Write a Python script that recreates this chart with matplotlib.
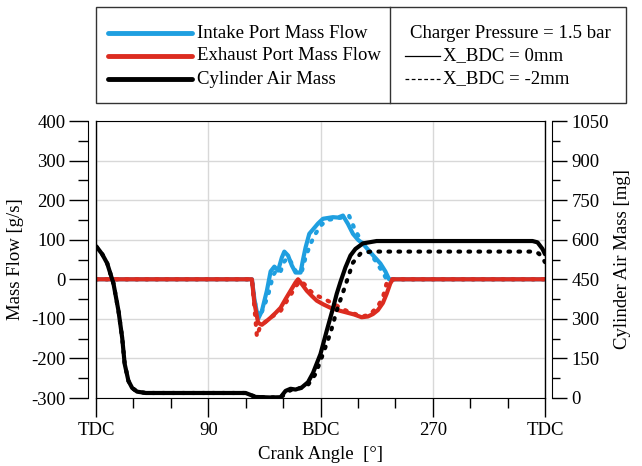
"""
Intake / exhaust port mass flow and cylinder air mass over crank angle.
"""

import matplotlib
matplotlib.use("Agg")
import matplotlib.pyplot as plt
from matplotlib.ticker import MultipleLocator

plt.rcParams["font.family"] = ["Liberation Serif", "DejaVu Serif"]
plt.rcParams["axes.unicode_minus"] = False

# ---- data ----
# cylinder air mass [mg], X_BDC = 0mm
air0_deg = [0, 1, 5, 9, 14, 18, 21, 23, 26, 29, 33, 40, 120, 128, 140, 148, 152, 156, 160,
            165, 170, 174, 180, 185, 190, 193, 196, 200, 204, 208, 214, 225, 350,
            354, 358, 360]
air0_mg = [575, 570, 545, 510, 434, 331, 228, 129, 65, 38, 24, 19, 19, 4, 2, 3, 27, 35, 32,
           40, 60, 95, 167, 255, 340, 395, 440, 495, 540, 565, 586, 595, 595,
           590, 565, 545]
# cylinder air mass [mg], X_BDC = -2mm
air2_deg = [0, 1, 5, 9, 14, 18, 21, 23, 26, 29, 33, 40, 120, 128, 140, 148, 152, 156, 160,
            165, 170, 176, 182, 188, 193, 198, 202, 206, 212, 220, 350, 355, 358, 360]
air2_mg = [575, 570, 545, 510, 434, 331, 228, 129, 65, 38, 24, 19, 19, 4, 2, 3, 15, 30, 35,
           38, 50, 91, 167, 247, 331, 400, 456, 513, 547, 555, 555, 548, 530, 515]

# exhaust port mass flow [g/s]
exh0_deg = [0, 125, 127, 130, 133, 137, 140, 144, 148, 152, 156, 160, 162, 165, 169,
            173, 177, 182, 188, 195, 201, 207, 213, 218, 222, 226, 230, 233, 236, 238, 360]
exh0_gs = [0, 0, -60, -110, -115, -105, -97, -85, -72, -50, -29, -8, 0, -12, -29,
           -42, -54, -63, -72, -79, -84, -89, -96, -94, -88, -78, -60, -37, -10, 0, 0]
exh2_deg = [0, 125, 127, 129, 131, 134, 138, 144, 148, 152, 156, 160, 164, 168, 172,
            176, 182, 188, 195, 201, 207, 214, 220, 226, 230, 233, 235, 360]
exh2_gs = [0, 0, -70, -145, -125, -112, -102, -88, -80, -60, -40, -18, -4, -15, -30,
           -40, -48, -58, -70, -80, -87, -94, -88, -68, -46, -10, 0, 0]

# intake port mass flow [g/s]
int0_deg = [0, 125, 127, 130, 133, 137, 140, 143, 146, 149, 151, 154, 157, 160, 164,
            166, 168, 171, 174, 178, 182, 186, 190, 194, 198, 202, 206, 210, 214,
            220, 228, 232, 235, 360]
int0_gs = [0, 0, -50, -100, -80, -29, 20, 32, 22, 55, 70, 60, 35, 17, 17,
           50, 80, 115, 126, 141, 153, 155, 157, 156, 161, 140, 115, 100, 90,
           68, 40, 20, 0, 0]
int2_deg = [0, 125, 128, 131, 134, 138, 142, 145, 148, 151, 154, 157, 161, 165, 168,
            172, 176, 180, 185, 190, 195, 200, 203, 207, 212, 218, 224, 230, 233, 360]
int2_gs = [0, 0, -70, -95, -75, -40, 10, 25, 20, 45, 55, 40, 15, 20, 55,
           90, 115, 135, 150, 152, 155, 157, 160, 130, 100, 73, 47, 17, 0, 0]

x_ticks = [0, 90, 180, 270, 360]
x_labels = ["TDC", "90", "BDC", "270", "TDC"]

BLUE = "#1f9fe0"
RED = "#dc2c20"
DOTS = (0, (0.4, 2.0))
FS = 13.5

fig = plt.figure(figsize=(6.42, 4.66), dpi=100)
ax = fig.add_axes([96 / 642, 1 - 398 / 466, 449 / 642, 277 / 466])
ax2 = ax.twinx()

ax.plot(int0_deg, int0_gs, color=BLUE, lw=3, solid_capstyle="round", zorder=2)
ax.plot(int2_deg, int2_gs, color=BLUE, lw=3, ls=DOTS, dash_capstyle="round", zorder=2)
ax.plot(exh0_deg, exh0_gs, color=RED, lw=3, solid_capstyle="round", zorder=3)
ax.plot(exh2_deg, exh2_gs, color=RED, lw=3, ls=DOTS, dash_capstyle="round", zorder=3)

ax2.plot(air0_deg, air0_mg, color="black", lw=3, solid_capstyle="round")
ax2.plot(air2_deg, air2_mg, color="black", lw=3, ls=DOTS, dash_capstyle="round")

ax.set_xlim(0, 360)
ax.set_ylim(-300, 400)
ax2.set_ylim(0, 1050)

ax.set_xticks(x_ticks)
ax.set_xticklabels(x_labels)
ax.xaxis.set_minor_locator(MultipleLocator(30))
ax.yaxis.set_major_locator(MultipleLocator(100))
ax.yaxis.set_minor_locator(MultipleLocator(50))
ax2.yaxis.set_major_locator(MultipleLocator(150))
ax2.yaxis.set_minor_locator(MultipleLocator(75))

ax.grid(True, color="#d8d8d8", lw=1)
ax.set_axisbelow(True)

for a in (ax, ax2):
    a.tick_params(which="major", length=14, width=1, labelsize=FS)
    a.tick_params(which="minor", length=7, width=1)
ax2.tick_params(which="major", length=11)
ax2.tick_params(which="minor", length=6)
ax.tick_params(axis="y", pad=2)
ax2.tick_params(axis="y", pad=3)
ax.tick_params(axis="x", pad=3)

ax.spines["left"].set_position(("outward", 6))
ax2.spines["right"].set_position(("outward", 5))
ax2.spines["left"].set_visible(False)
ax.spines["right"].set_visible(False)
ax2.spines["top"].set_visible(False)
ax2.spines["bottom"].set_visible(False)
# inner frame lines at the plot edges
ax.axvline(0, color="black", lw=1, clip_on=False, zorder=5)
ax.axvline(360, color="black", lw=1, clip_on=False, zorder=5)

ax.set_xlabel("Crank Angle  [°]", fontsize=FS, labelpad=5)
ax.set_ylabel("Mass Flow [g/s]", fontsize=FS, labelpad=5)
ax2.set_ylabel("Cylinder Air Mass [mg]", fontsize=FS, labelpad=4)

# ---- legend box drawn in pixel space ----
lg = fig.add_axes([0, 0, 1, 1], zorder=10)
lg.set_xlim(0, 642)
lg.set_ylim(466, 0)
lg.axis("off")
lg.add_patch(plt.Rectangle((96, 7), 530, 96, fill=False, ec="#333333", lw=1))
lg.plot([390, 390], [7, 103], color="#333333", lw=1)
rows = [33, 56, 79]
for y, c, txt in zip(rows, [BLUE, RED, "black"],
                     ["Intake Port Mass Flow", "Exhaust Port Mass Flow", "Cylinder Air Mass"]):
    lg.plot([108, 192], [y, y], color=c, lw=3.5, solid_capstyle="round")
    lg.text(197, y, txt, fontsize=FS, va="center", ha="left")
lg.text(410, rows[0], "Charger Pressure = 1.5 bar", fontsize=FS, va="center", ha="left")
lg.plot([405, 440], [rows[1], rows[1]], color="black", lw=0.9)
lg.text(443, rows[1], "X_BDC = 0mm", fontsize=FS, va="center", ha="left")
lg.plot([405, 440], [rows[2], rows[2]], color="black", lw=0.9, ls=(0, (3, 2)))
lg.text(443, rows[2], "X_BDC = -2mm", fontsize=FS, va="center", ha="left")

fig.savefig("out.png", dpi=100)
